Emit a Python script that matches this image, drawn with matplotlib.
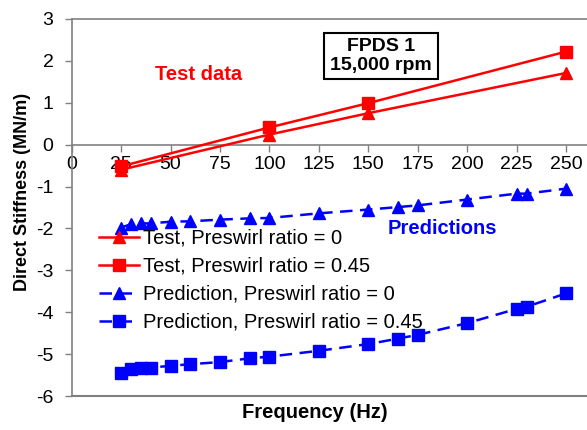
import matplotlib
matplotlib.use("Agg")
import matplotlib.pyplot as plt

plt.rcParams['font.family'] = ['Liberation Sans', 'DejaVu Sans']
plt.rcParams['axes.unicode_minus'] = False

# Test data (red)
test_freq = [25, 100, 150, 250]
test_pr0 = [-0.60, 0.24, 0.75, 1.71]
test_pr045 = [-0.52, 0.41, 0.99, 2.22]

# Predictions (blue)
pred_freq = [25, 30, 35, 40, 50, 60, 75, 90, 100, 125, 150, 165, 175, 200, 225, 230, 250]
pred_pr0 = [-1.98, -1.90, -1.88, -1.88, -1.84, -1.83, -1.79, -1.76, -1.75,
            -1.64, -1.55, -1.49, -1.45, -1.31, -1.17, -1.17, -1.05]
pred_pr045 = [-5.44, -5.35, -5.32, -5.32, -5.28, -5.24, -5.19, -5.10, -5.06,
              -4.92, -4.76, -4.63, -4.54, -4.26, -3.92, -3.87, -3.55]

x_ticks = [0, 25, 50, 75, 100, 125, 150, 175, 200, 225, 250]
y_ticks = [-6, -5, -4, -3, -2, -1, 0, 1, 2, 3]

fig = plt.figure(figsize=(5.87, 4.30), dpi=100)
ax = fig.add_axes([0.122, 0.079, 0.93, 0.877])

red = '#ff0000'
blue = '#0000ff'
ax.plot(test_freq, test_pr0, color=red, lw=1.8, marker='^', ms=9,
        label='Test, Preswirl ratio = 0', zorder=4)
ax.plot(test_freq, test_pr045, color=red, lw=1.8, marker='s', ms=9,
        label='Test, Preswirl ratio = 0.45', zorder=4)
ax.plot(pred_freq, pred_pr0, color=blue, lw=1.8, marker='^', ms=9,
        dashes=(5, 3), label='Prediction, Preswirl ratio = 0', zorder=4)
ax.plot(pred_freq, pred_pr045, color=blue, lw=1.8, marker='s', ms=9,
        dashes=(5, 3), label='Prediction, Preswirl ratio = 0.45', zorder=4)

ax.set_xlim(0, 276)
ax.set_ylim(-6, 3)
ax.set_xticks(x_ticks)
ax.set_yticks(y_ticks)
ax.tick_params(labelsize=14, color='#808080', length=5, width=1)
ax.tick_params(axis='y', pad=8)

for s in ['top', 'bottom', 'left', 'right']:
    ax.spines[s].set_color('#808080')
    ax.spines[s].set_linewidth(1.2)
ax.spines['bottom'].set_position(('data', 0))
ax.axhline(-6, color='#808080', lw=1.5, clip_on=False)

ax.set_ylabel('Direct Stiffness (MN/m)', fontsize=13, fontweight='bold')
ax.yaxis.set_label_coords(-0.074, 0.54)
fig.text(315 / 587, 1 - 413 / 430, 'Frequency (Hz)', fontsize=14.5, fontweight='bold',
         ha='center', va='center')

fig.text(199 / 587, 1 - 75 / 430, 'Test data', fontsize=14.5, fontweight='bold',
         color=red, ha='center', va='center')
fig.text(442 / 587, 1 - 229 / 430, 'Predictions', fontsize=14.5, fontweight='bold',
         color=blue, ha='center', va='center')
fig.text(381 / 587, 1 - 56 / 430, 'FPDS 1\n15,000 rpm', fontsize=14, fontweight='bold',
         ha='center', va='center', linespacing=1.1,
         bbox=dict(boxstyle='square,pad=0.3', fc='white', ec='black', lw=1.5))

ax.legend(loc='upper left', bbox_to_anchor=(0.035, 0.465), frameon=False,
          fontsize=14.5, numpoints=1, handlelength=2.0, handletextpad=0.2,
          labelspacing=0.45, borderaxespad=0)

fig.savefig('out.png', dpi=100)
